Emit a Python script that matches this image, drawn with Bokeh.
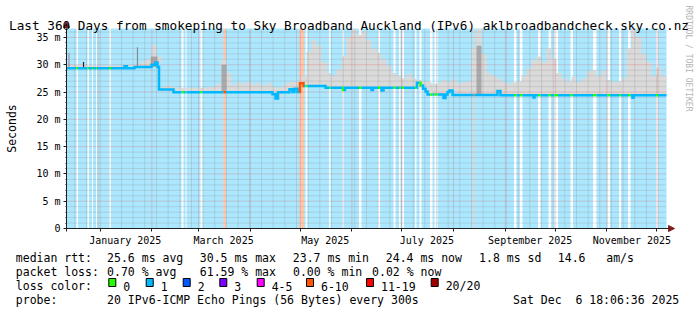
import numpy as np
import pandas as pd
from bokeh.plotting import figure
from bokeh.models import (Range1d, FixedTicker, Label, Arrow, NormalHead,
                          DatetimeTickFormatter, BoxAnnotation)
from bokeh.embed import file_html
from bokeh.resources import INLINE

# ---------------------------------------------------------------- data
START = "2024-12-11 18:00"
END = "2025-12-06 18:00"
Y_TOP = 36.65  # ms, top of the graph area

# median rtt (ms), piecewise constant from each date on
median_dates = [
    "2024-12-11 18:00", "2025-01-15 13:00", "2025-01-17 01:00", "2025-01-21 13:00",
    "2025-01-31 18:00", "2025-02-03 04:00", "2025-02-04 09:00", "2025-02-05 06:00",
    "2025-02-13 23:00", "2025-04-14 08:00", "2025-04-16 04:00", "2025-04-17 16:00",
    "2025-04-24 13:00", "2025-04-26 08:00", "2025-04-27 13:00", "2025-04-29 08:00",
    "2025-04-30 20:00", "2025-05-02 23:00", "2025-05-16 04:00", "2025-05-26 16:00",
    "2025-05-27 20:00", "2025-06-12 18:00", "2025-06-13 16:00", "2025-06-18 18:00",
    "2025-06-19 23:00", "2025-07-10 01:00", "2025-07-12 04:00", "2025-07-13 16:00",
    "2025-07-15 04:00", "2025-07-16 09:00", "2025-07-25 23:00", "2025-07-27 04:00",
    "2025-07-28 09:00", "2025-07-29 13:00", "2025-07-31 09:00", "2025-08-27 08:00",
    "2025-08-29 03:00", "2025-09-17 23:00", "2025-09-18 13:00", "2025-11-16 09:00",
    "2025-11-16 23:00",
]
median_ms = [
    29.35, 29.75, 29.35, 29.6,
    30.0, 30.4, 29.6, 25.45,
    24.95, 24.6, 23.8, 24.95,
    25.5, 25.0, 25.6, 25.0,
    26.6, 26.1, 25.8, 25.4,
    25.8, 25.4, 25.8, 25.3,
    25.8, 26.7, 26.2, 25.6,
    25.1, 24.55, 23.9, 24.55,
    25.0, 25.3, 24.45, 25.2,
    24.4, 24.0, 24.4, 23.95,
    24.4,
]

# packet loss class, valid from each date until the next one
loss_dates = [
    "2024-12-11 18:00", "2024-12-17 18:00", "2024-12-18 16:00", "2024-12-24 08:00",
    "2024-12-25 06:00", "2024-12-27 01:00", "2024-12-27 16:00", "2024-12-29 11:00",
    "2024-12-30 01:00", "2025-01-06 06:00", "2025-01-07 11:00", "2025-02-18 18:00",
    "2025-02-19 23:00", "2025-02-21 04:00", "2025-02-21 18:00", "2025-03-02 03:00",
    "2025-03-03 08:00", "2025-03-15 22:00", "2025-03-17 11:00", "2025-04-30 13:00",
    "2025-05-03 06:00", "2025-05-04 04:00", "2025-05-05 08:00", "2025-05-18 06:00",
    "2025-05-19 04:00", "2025-05-26 08:00", "2025-05-27 06:00", "2025-06-05 06:00",
    "2025-06-06 18:00", "2025-06-16 16:00", "2025-06-17 21:00", "2025-06-25 23:00",
    "2025-06-27 04:00", "2025-06-29 06:00", "2025-06-30 04:00", "2025-07-01 01:00",
    "2025-07-02 06:00", "2025-07-08 21:00", "2025-07-09 18:00", "2025-07-11 13:00",
    "2025-07-12 18:00", "2025-07-17 21:00", "2025-07-19 09:00", "2025-07-20 13:00",
    "2025-07-22 09:00", "2025-08-12 23:00", "2025-08-13 13:00", "2025-09-06 06:00",
    "2025-09-07 18:00", "2025-09-09 20:00", "2025-09-11 08:00", "2025-09-20 16:00",
    "2025-09-22 04:00", "2025-09-26 23:00", "2025-09-28 11:00", "2025-09-30 13:00",
    "2025-10-02 16:00", "2025-10-10 04:00", "2025-10-11 16:00", "2025-10-23 16:00",
    "2025-10-25 18:00", "2025-11-01 09:00", "2025-11-02 21:00", "2025-11-08 06:00",
    "2025-11-09 11:00", "2025-11-13 16:00", "2025-11-15 04:00", "2025-11-30 11:00",
    "2025-12-01 16:00",
]
loss_class = [
    "1", "0", "1", "0", "1", "0", "1", "0", "1", "0", "1", "0", "1", "0", "1", "0",
    "1", "6-10", "1", "6-10", "1", "0", "1", "0", "1", "0", "1", "0", "1", "0",
    "1", "0", "1", "0", "1", "0", "1", "0", "1", "0", "1", "0", "1", "0", "1",
    "6-10", "1", "0", "1", "0", "1", "0", "1", "0", "1", "0", "1", "0", "1", "0",
    "1", "0", "1", "0", "1", "0", "1", "0", "1",
]

# smoke: highest ping (ms) in each 3-day slot, starting at START
smoke_hi = [
    29.9, 29.9, 29.9, 29.9, 29.8, 29.8, 29.8, 29.8, 29.8, 29.8, 29.8, 29.9, 29.9,
    30.0, 30.2, 30.6, 31.0, 33.6, 31.5,
    26.0, 26.2, 25.9, 25.8, 25.7, 25.7, 25.8, 25.7, 25.8, 25.9, 26.0, 26.5, 31.0,
    28.5, 26.3, 26.8, 26.5, 26.9, 26.4, 26.6, 26.2, 26.7, 26.0, 25.8, 26.3,
    26.8, 27.0, 26.8, 28.0, 32.5, 34.5, 33.5, 30.5, 28.5, 28.0, 29.2, 31.5, 35.0,
    36.6, 35.5, 36.2, 34.5, 33.0, 32.2, 31.0, 29.8, 28.5, 28.0, 27.5, 28.3,
    27.5, 27.2, 27.0, 26.8, 26.5, 26.6, 27.2, 26.8, 27.3, 26.6, 26.8, 27.0, 33.0,
    36.6, 32.0, 28.5, 28.0, 27.5, 26.8, 26.5, 26.8, 27.0, 28.0, 29.3, 30.8,
    31.5, 30.5, 33.0, 31.0, 28.5, 27.5, 27.0, 27.8, 26.8, 27.5, 28.8, 29.0, 28.0,
    29.0, 27.2, 26.8, 27.0, 27.5, 33.0, 36.6, 35.0, 32.0, 30.5, 28.0, 29.5, 28.0,
]

# denser (darker) smoke around a few bursts
dark_start = ["2025-01-31 09:00", "2025-03-14 18:00", "2025-08-14 18:00"]
dark_end = ["2025-02-04 09:00", "2025-03-17 17:00", "2025-08-17 18:00"]
dark_hi = [31.5, 30.0, 33.5]

# single isolated outliers
spike_dates = ["2024-12-13 06:00", "2024-12-21 23:00", "2025-01-23 08:00"]
spike_hi = [32.2, 30.5, 33.2]

month_labels = ["2025-01-01", "2025-03-01", "2025-05-01", "2025-07-01", "2025-09-01", "2025-11-01"]
y_ticks = [0, 5, 10, 15, 20, 25, 30, 35]

loss_legend = ["0", "1", "2", "3", "4-5", "6-10", "11-19", "20/20"]
loss_colors = ["#26ff00", "#00b8ff", "#0059ff", "#7e00ff", "#ff00ff", "#ff5500", "#ff0000", "#a10000"]

median_row = ["median rtt:", "25.6 ms avg", "30.5 ms max", "23.7 ms min", "24.4 ms now", "1.8 ms sd", "14.6   am/s"]
loss_row = ["packet loss:", "0.70 % avg", "61.59 % max", "0.00 % min", "0.02 % now"]
probe_row = ["probe:", "20 IPv6-ICMP Echo Pings (56 Bytes) every 300s", "Sat Dec  6 18:06:36 2025"]
title_text = "Last 360 Days from smokeping to Sky Broadband Auckland (IPv6) aklbroadbandcheck.sky.co.nz"

# ---------------------------------------------------------------- helpers
COLOR = dict(zip(loss_legend, loss_colors))
FONT = "DejaVu Sans Mono"
AXIS = "#1f1f1f"
ARROW = "#801f1f"
W, H = 697, 310
GL, GR, GT, GB = 66, 666, 28, 228   # graph area inside the canvas


def ms(t):
    return pd.Timestamp(t).value / 1e6


t0, t1 = ms(START), ms(END)
px_t = (t1 - t0) / (GR - GL)          # one pixel in time
px_y = Y_TOP / (GB - GT)              # one pixel in ms

med_t = np.array([ms(d) for d in median_dates])
med_v = np.array(median_ms, dtype=float)


def med_at(t):
    i = np.searchsorted(med_t, t, side="right") - 1
    return med_v[max(i, 0)]


loss_t = [ms(d) for d in loss_dates] + [t1]

# ---------------------------------------------------------------- figure (frame = whole canvas)
p = figure(width=W, height=H, output_backend="svg", toolbar_location=None,
           x_axis_type="datetime",
           x_range=Range1d(t0 - GL * px_t, t1 + (W - GR) * px_t),
           y_range=Range1d(-(H - GB) * px_y, Y_TOP + GT * px_y),
           min_border=0, background_fill_color="white", border_fill_color="white",
           outline_line_color=None)
p.xgrid.visible = False
p.ygrid.visible = False

# loss background
bl, br, bc = [], [], []
for i, c in enumerate(loss_class):
    if c != "0":
        bl.append(loss_t[i]); br.append(loss_t[i + 1]); bc.append(COLOR[c])
p.quad(left=bl, right=br, bottom=0, top=Y_TOP, fill_color=bc, fill_alpha=0.33, line_color=None)

# smoke (step area)
edges = [t0 + k * (t1 - t0) / len(smoke_hi) for k in range(len(smoke_hi) + 1)]
sx, s_lo, s_hi = [], [], []
for k, hi in enumerate(smoke_hi):
    lo = med_at(edges[k])
    sx += [edges[k], edges[k + 1]]
    s_lo += [lo, lo]
    s_hi += [min(hi, Y_TOP), min(hi, Y_TOP)]
p.varea(x=sx, y1=s_lo, y2=s_hi, fill_color="#dadada")

for a, b, hi in zip(dark_start, dark_end, dark_hi):
    lo = med_at(ms(a))
    p.varea(x=[ms(a), ms(b)], y1=[lo, lo], y2=[hi, hi], fill_color="#a9a9a9")

p.segment(x0=[ms(d) for d in spike_dates], x1=[ms(d) for d in spike_dates],
          y0=[med_at(ms(d)) for d in spike_dates], y1=spike_hi,
          line_color=["#9a9a9a", "#202020", "#8a8a8a"], line_width=1.2)

# grid (dotted, drawn over the smoke like rrdtool)
month_ticks = [ms(d) for d in pd.date_range("2025-01-01", "2025-12-01", freq="MS")]
week_ticks = [ms(d) for d in pd.date_range(START, END, freq="W-MON") if ms(d) not in month_ticks]
y_minor = [v for v in range(1, 37) if v % 5]
GRID_MINOR = dict(line_color="#8f8f8f", line_alpha=0.55, line_dash="1 1", line_width=1)
GRID_MAJOR = dict(line_color="#de4f4f", line_alpha=0.5, line_dash="1 1", line_width=1)
p.segment(x0=week_ticks, x1=week_ticks, y0=0, y1=Y_TOP, **GRID_MINOR)
p.segment(x0=t0, x1=t1, y0=y_minor, y1=y_minor, **GRID_MINOR)
p.segment(x0=month_ticks, x1=month_ticks, y0=0, y1=Y_TOP, **GRID_MAJOR)
p.segment(x0=t0, x1=t1, y0=y_ticks[1:], y1=y_ticks[1:], **GRID_MAJOR)

# median line coloured by loss
xs, ys, cs = [], [], []
for i, c in enumerate(loss_class):
    a, b = loss_t[i], loss_t[i + 1]
    lx, ly = [a], [med_at(a)]
    for t, v in zip(med_t, med_v):
        if a < t < b:
            lx += [t, t]; ly += [ly[-1], v]
    lx.append(b); ly.append(ly[-1])
    xs.append(lx); ys.append(ly); cs.append(COLOR[c])
p.multi_line(xs, ys, line_color=cs, line_width=2.5, line_join="miter")

# ---------------------------------------------------------------- axes
label_ticks = [ms(pd.Timestamp(d) + pd.Timedelta(days=15)) for d in month_labels]

xa = p.xaxis[0]
xa.fixed_location = 0
xa.bounds = (t0, t1 + 4 * px_t)
xa.ticker = FixedTicker(ticks=label_ticks, minor_ticks=[t0] + month_ticks)
fmt = "%B %Y"
xa.formatter = DatetimeTickFormatter(days=fmt, months=fmt, years=fmt, hours=fmt,
                                     hourmin=fmt, minutes=fmt, minsec=fmt, seconds=fmt)
xa.major_tick_out = 0; xa.major_tick_in = 0
xa.minor_tick_out = 3; xa.minor_tick_in = 0
xa.major_label_standoff = 3

ya = p.yaxis[0]
ya.fixed_location = t0
ya.bounds = (0, Y_TOP)
ya.ticker = FixedTicker(ticks=y_ticks, minor_ticks=y_minor)
ya.major_label_overrides = {v: ("%d\u00a0m" % v if v else "0") for v in y_ticks}
ya.major_tick_out = 3; ya.major_tick_in = 0
ya.minor_tick_out = 1; ya.minor_tick_in = 0
ya.major_label_standoff = 3

for ax in (xa, ya):
    ax.axis_line_color = AXIS
    ax.major_tick_line_color = AXIS
    ax.minor_tick_line_color = AXIS
    ax.major_label_text_font = FONT
    ax.major_label_text_font_size = "10px"
    ax.major_label_text_color = "black"

# axis arrows
p.add_layout(Arrow(x_start=t1, y_start=0, x_end=t1 + 8 * px_t, y_end=0, line_color=AXIS,
                   end=NormalHead(size=6, fill_color=ARROW, line_color=ARROW)))
p.add_layout(Arrow(x_start=t0, y_start=Y_TOP, x_end=t0, y_end=Y_TOP + 7 * px_y, line_color=AXIS,
                   end=NormalHead(size=6, fill_color=ARROW, line_color=ARROW)))

# ---------------------------------------------------------------- texts (screen units, canvas pixels)


def text(cx, cy, s, size="11.5px", align="left", baseline="alphabetic", angle=0, color="black"):
    s = s.replace(" ", "\u00a0")   # keep runs of spaces in the SVG text
    p.add_layout(Label(x=cx, y=H - cy, x_units="screen", y_units="screen", text=s,
                       text_font=FONT, text_font_size=size, text_align=align,
                       text_baseline=baseline, angle=angle, text_color=color))


text(348.5, 24.5, title_text, size="12.7px", align="center")
text(11, 128, "Seconds", size="11.5px", align="center", baseline="middle", angle=np.pi / 2)
text(688, 58, "RRDTOOL / TOBI OETIKER", size="8px", align="center", baseline="middle",
     angle=-np.pi / 2, color="#b4b4b4")

for x, s in zip([15.3, 106.6, 199.3, 292.3, 385.3, 478.6, 557.3], median_row):
    text(x, 257.5, s)
for x, s in zip([15.3, 106.6, 199.3, 292.5, 371.6], loss_row):
    text(x, 271.5, s)
text(15.3, 285.5, "loss color:")
box_x = [108.3, 145.7, 182.7, 219.3, 256.7, 306.0, 366.0, 430.7]
for bx, lab, col in zip(box_x, loss_legend, loss_colors):
    p.add_layout(BoxAnnotation(left=bx, right=bx + 7, top=H - 278, bottom=H - 286,
                               left_units="screen", right_units="screen", top_units="screen",
                               bottom_units="screen", fill_color=col, fill_alpha=1.0,
                               line_color="black", line_width=1, line_alpha=1.0))
    text(bx + 14.5, 285.5, lab)
for x, s in zip([15.3, 106.6, 512.6], probe_row):
    text(x, 299.3, s)

open("out.html", "w").write(file_html(p, INLINE))
